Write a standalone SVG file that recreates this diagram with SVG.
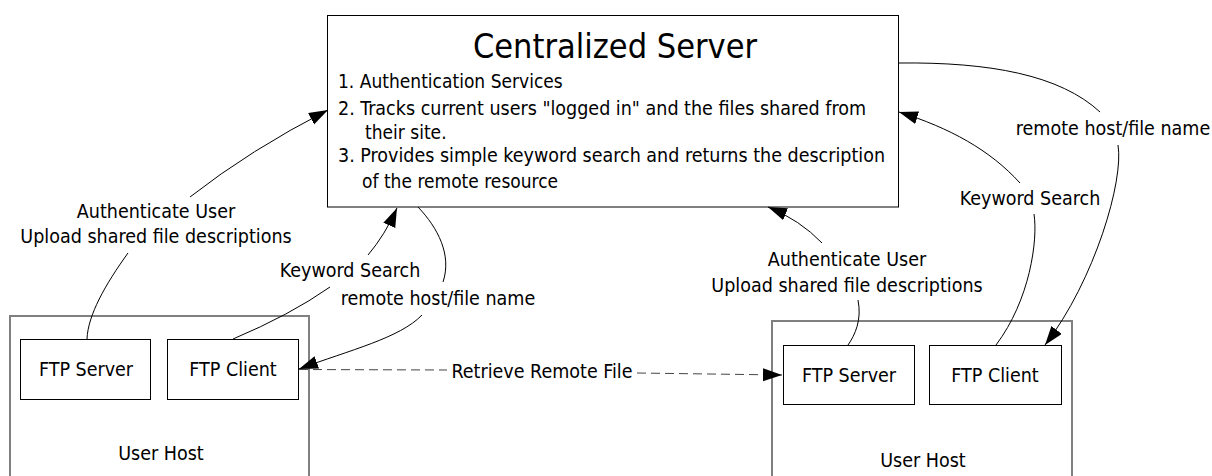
<svg xmlns="http://www.w3.org/2000/svg" width="1212" height="476" viewBox="0 0 1212 476">
<defs>
<marker id="arr" markerUnits="userSpaceOnUse" markerWidth="22" markerHeight="14" refX="19" refY="6.5" orient="auto">
<path d="M0,0 L19,6.5 L0,13 z" fill="#000"/>
</marker>
<style>
text{font-family:"DejaVu Sans Condensed","DejaVu Sans",sans-serif;font-stretch:condensed;fill:#000}
.lbl{font-size:19.5px;text-anchor:middle}
.body{font-size:19px}
.title{font-size:34px;text-anchor:middle}
.host{fill:#fff;stroke:#808080;stroke-width:2}
.box{fill:#fff;stroke:#000;stroke-width:1}
.con{fill:none;stroke:#000;stroke-width:1}
.dash{fill:none;stroke:#444;stroke-width:1;stroke-dasharray:9,5}
</style>
</defs>
<rect width="1212" height="476" fill="#fff"/>

<g id="server">
<rect class="box" x="327.5" y="15.5" width="571" height="191.5"/>
<text class="title" x="615" y="58">Centralized Server</text>
<text class="body" x="338" y="88">1. Authentication Services</text>
<text class="body" x="338" y="115" textLength="528" lengthAdjust="spacingAndGlyphs">2. Tracks current users "logged in" and the files shared from</text>
<text class="body" x="365" y="139">their site.</text>
<text class="body" x="338" y="162" textLength="547" lengthAdjust="spacingAndGlyphs">3. Provides simple keyword search and returns the description</text>
<text class="body" x="362" y="188">of the remote resource</text>
</g>

<g id="host-left">
<rect class="host" x="10" y="316" width="299" height="200"/>
<text class="lbl" x="161" y="460">User Host</text>
</g>
<g id="ftpserver-left">
<rect class="box" x="20.5" y="339.5" width="130" height="60"/>
<text class="lbl" x="86" y="376">FTP Server</text>
</g>
<g id="ftpclient-left">
<rect class="box" x="167.5" y="339.5" width="131" height="60"/>
<text class="lbl" x="233" y="376">FTP Client</text>
</g>

<g id="host-right">
<rect class="host" x="772" y="321" width="300" height="200"/>
<text class="lbl" x="923" y="467">User Host</text>
</g>
<g id="ftpserver-right">
<rect class="box" x="783.5" y="345.5" width="131" height="59"/>
<text class="lbl" x="849" y="382">FTP Server</text>
</g>
<g id="ftpclient-right">
<rect class="box" x="929.5" y="345.5" width="132" height="59"/>
<text class="lbl" x="995" y="382">FTP Client</text>
</g>

<g id="connectors">
<!-- left authenticate -->
<path class="con" d="M87,339 C88,315 105,285 128,253"/>
<path class="con" d="M190,197 Q250,150 328,110" marker-end="url(#arr)"/>
<text class="lbl" x="156" y="218">Authenticate User</text>
<text class="lbl" x="156" y="243">Upload shared file descriptions</text>
<!-- left keyword search -->
<path class="con" d="M233,339 Q290,315 330,287"/>
<path class="con" d="M368,255 Q385,235 397,208" marker-end="url(#arr)"/>
<text class="lbl" x="350" y="277">Keyword Search</text>
<!-- left remote host/file name -->
<path class="con" d="M418,207 C438,228 452,255 443,282"/>
<path class="con" d="M422,315 C400,338 350,350 299,369" marker-end="url(#arr)"/>
<text class="lbl" x="438" y="305">remote host/file name</text>
<!-- retrieve remote file -->
<path class="dash" d="M299,369.5 L447,370"/>
<path class="dash" d="M637,373 L782,375" marker-end="url(#arr)"/>
<text class="lbl" x="542" y="378">Retrieve Remote File</text>
<!-- right authenticate -->
<path class="con" d="M822,243 Q800,220 768,207" marker-end="url(#arr)"/>
<path class="con" d="M858,300 C862,320 855,335 848,345"/>
<text class="lbl" x="847" y="266">Authenticate User</text>
<text class="lbl" x="847" y="292">Upload shared file descriptions</text>
<!-- right keyword search -->
<path class="con" d="M1020,183 C990,150 950,128 899,112" marker-end="url(#arr)"/>
<path class="con" d="M1034,214 C1038,240 1030,300 996,345"/>
<text class="lbl" x="1030" y="205">Keyword Search</text>
<!-- right remote host/file name -->
<path class="con" d="M899,63 C990,62 1060,75 1100,112"/>
<path class="con" d="M1118,145 C1124,180 1095,280 1045,345" marker-end="url(#arr)"/>
<text class="lbl" x="1113" y="135">remote host/file name</text>
</g>
</svg>
